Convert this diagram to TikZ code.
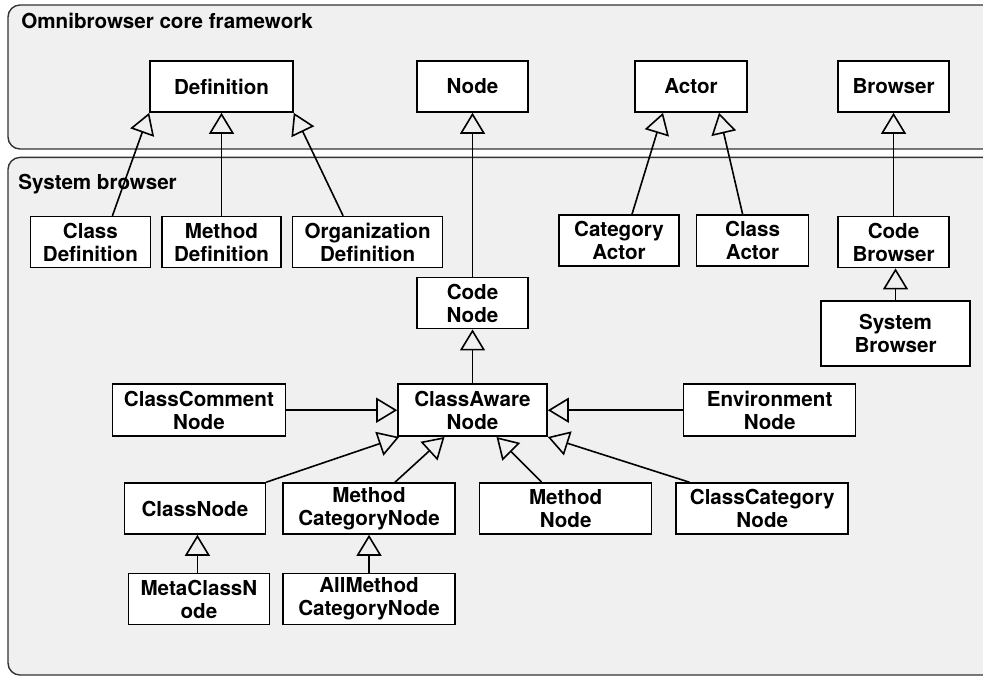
\documentclass[tikz,border=0pt]{standalone}
\usepackage{fontspec}
\setmainfont{TeX Gyre Heros}
\usepackage{tikz}
\usetikzlibrary{arrows.meta, positioning}
\tikzset{
  pkg/.style={draw=black!80,fill=gray!12,line width=0.7pt,rounded corners=6pt},
  pkgtitle/.style={anchor=base west,inner sep=0pt,font=\fontsize{10.3}{11.5}\selectfont\bfseries},
  umlclass/.style={rectangle,draw=black,fill=white,line width=0.8pt,align=center,inner sep=0pt,
    minimum height=25.5pt,font=\fontsize{10.3}{11.5}\selectfont\bfseries},
  umlclass_w/.style={umlclass,minimum width=#1},
  extends/.style={line width=0.8pt,black,-{Triangle[open,length=10.5pt,width=12.5pt,line width=0.8pt]}},
}

\begin{document}
\begin{tikzpicture}[x=1pt,y=1pt]
	    \useasboundingbox (0,0) rectangle (491.5,-338.5);
	    \clip (0,0) rectangle (491.5,-338.5);
	    % packages
	    \draw[pkg] (4,-2.5) rectangle (500,-74.5);
	    \draw[pkg] (4,-78.7) rectangle (500,-337.5);
	    \node[pkgtitle] (T1) at (10.5,-14.2) {Omnibrowser core framework};
	    \node[pkgtitle] (T2) at (9,-94.7) {System browser};
	    % core framework
	    \node[umlclass_w=71.5pt] (A) at (110.75,-43.25) {Definition};
	    \node[umlclass_w=55.5pt] (B) at (236.25,-43.25) {Node};
	    \node[umlclass_w=56pt] (C) at (345.5,-43.25) {Actor};
	    \node[umlclass_w=55.5pt] (D) at (446.75,-43.25) {Browser};
	    % system browser
	    \node[umlclass_w=59.5pt,below=51.5pt of A] (F) {Method\\Definition};
	    \node[umlclass_w=60pt,left=5pt of F] (E) {Class\\Definition};
	    \node[umlclass_w=75pt,right=5pt of F] (G) {Organization\\Definition};
	    \node[umlclass_w=60pt] (H) at (309.5,-120.25) {Category\\Actor};
	    \node[umlclass_w=56pt,right=8pt of H] (I) {Class\\Actor};
	    \node[umlclass_w=55.5pt,below=51.5pt of D] (J) {Code\\Browser};
	    \node[umlclass_w=74.5pt,minimum height=32.5pt,below=16pt of J,xshift=1pt] (K) {System\\Browser};
	    \node[umlclass_w=55.5pt,below=82pt of B] (L) {Code\\Node};
	    \node[umlclass_w=74.5pt,minimum height=26pt,below=27pt of L] (M) {ClassAware\\Node};
	    \node[umlclass_w=86.5pt,minimum height=26pt,left=55.5pt of M] (N) {ClassComment\\Node};
	    \node[umlclass_w=86pt,minimum height=26pt,right=67.5pt of M] (O) {Environment\\Node};
	    \node[umlclass_w=86pt] (Q) at (184.5,-254.25) {Method\\CategoryNode};
	    \node[umlclass_w=70.5pt,left=8pt of Q] (P) {ClassNode};
	    \node[umlclass_w=86pt,right=11.5pt of Q] (R) {Method\\Node};
	    \node[umlclass_w=86pt,right=11.5pt of R] (S) {ClassCategory\\Node};
	    \node[umlclass_w=70.5pt,below=19pt of P,xshift=2pt] (T) {MetaClassN\\ode};
	    \node[umlclass_w=86pt,below=19pt of Q] (U) {AllMethod\\CategoryNode};
	    % generalizations
	    \draw ([xshift=11pt]E.north) edge[extends] (A.south west);
	    \draw (F) edge[extends] (A);
	    \draw ([xshift=-12.25pt]G.north) edge[extends] (A.south east);
	    \draw (L) edge[extends] (B);
	    \draw ([xshift=6.5pt]H.north) edge[extends] ([xshift=-14pt]C.south);
	    \draw ([xshift=-5pt]I.north) edge[extends] ([xshift=14pt]C.south);
	    \draw (J) edge[extends] (D);
	    \draw (K.north) edge[extends] (K.north |- J.south);
	    \draw (M) edge[extends] (L);
	    \draw (N) edge[extends] (M);
	    \draw (O) edge[extends] (M);
	    \draw (P.north east) edge[extends] ([xshift=1pt]M.south west);
	    \draw ([xshift=13pt]Q.north) edge[extends] ([xshift=-14pt]M.south);
	    \draw ([xshift=-12pt]R.north) edge[extends] ([xshift=12pt]M.south);
	    \draw ([xshift=7pt]S.north west) edge[extends] (M.south east);
	    \draw ([xshift=-0.75pt]T.north) edge[extends] ([xshift=-0.75pt]T.north |- P.south);
	    \draw (U) edge[extends] (Q);
	\end{tikzpicture}
\end{document}
